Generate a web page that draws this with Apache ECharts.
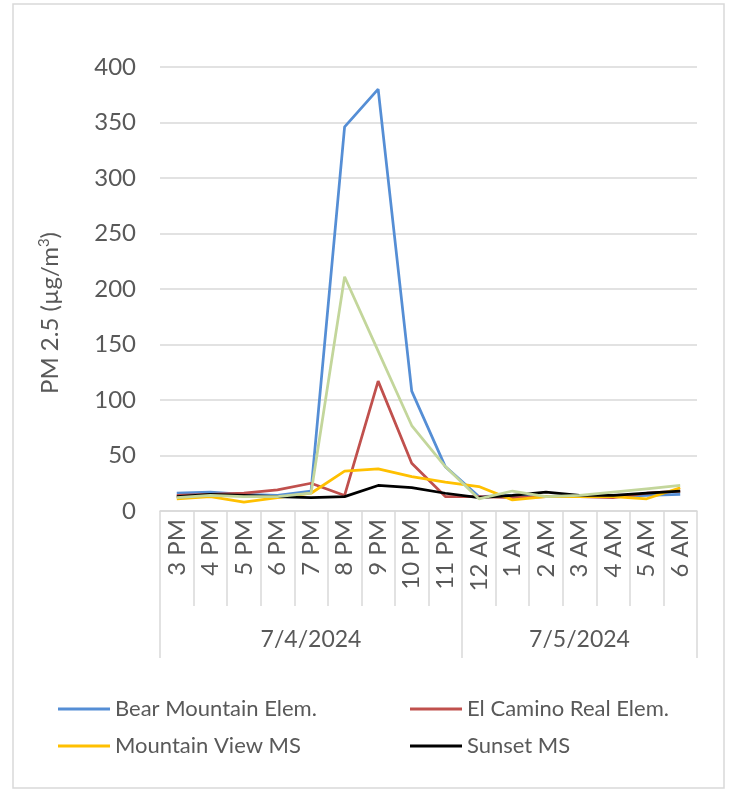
<!DOCTYPE html>
<html>
<head>
<meta charset="utf-8">
<script src="https://cdn.jsdelivr.net/npm/echarts@6/dist/echarts.min.js"></script>
<style>html,body{margin:0;padding:0;background:#fff}#c{width:729px;height:792px}</style>
</head>
<body>
<div id="c"></div>
<script>
const hours = ['3 PM','4 PM','5 PM','6 PM','7 PM','8 PM','9 PM','10 PM','11 PM','12 AM','1 AM','2 AM','3 AM','4 AM','5 AM','6 AM'];
const dateGroups = ['7/4/2024','7/5/2024'];
const dateGroupSizes = [9, 7];
const yTicks = [0, 50, 100, 150, 200, 250, 300, 350, 400];

const bearMountain = [16, 17, 15, 14, 18, 346, 380, 108, 40, 13, 14, 13, 13, 13, 14, 15];
const elCamino     = [14, 15, 16, 19, 25, 14, 117, 43, 13, 13, 12, 13, 13, 12, 16, 18];
const mountainView = [11, 13, 8, 12, 16, 36, 38, 31, 26, 22, 10, 13, 13, 13, 11, 21];
const sunset       = [13, 15, 14, 13, 12, 13, 23, 21, 16, 12, 14, 17, 14, 14, 16, 18];
const fifthSite    = [12, 14, 13, 13, 16, 211, 144, 77, 40, 11, 18, 13, 14, 17, 20, 23];

// build second-level axis (date groups)
const groupAxisData = new Array(hours.length).fill('');
const groupStarts = [];
const groupLabelIdx = [];
let start = 0;
dateGroups.forEach((g, i) => {
  groupStarts.push(start);
  const mid = start + Math.floor((dateGroupSizes[i] - 1) / 2);
  groupAxisData[mid] = g;
  groupLabelIdx.push(mid);
  start += dateGroupSizes[i];
});

const FONT = 'Lato';
const TXT = '#595959';
const GRIDC = '#d9d9d9';

const chart = echarts.init(document.getElementById('c'), null, {renderer: 'canvas'});
const mk = (name, data, color) => ({
  name, type: 'line', data, showSymbol: false, symbol: 'none',
  lineStyle: {color, width: 2.75}, itemStyle: {color}, animation: false
});
chart.setOption({
  animation: false,
  textStyle: {fontFamily: FONT},
  graphic: [{
    type: 'rect', shape: {x: 13, y: 4, width: 711, height: 784},
    style: {fill: 'none', stroke: GRIDC, lineWidth: 1.5}, silent: true
  }],
  grid: {left: 160, right: 32, top: 67, bottom: 281, containLabel: false, outerBoundsMode: 'none'},
  legend: [{
    orient: 'vertical', left: 58, top: 698, padding: 0, itemWidth: 52, itemHeight: 3, itemGap: 15,
    icon: 'rect', data: ['Bear Mountain Elem.', 'Mountain View MS'],
    textStyle: {color: TXT, fontSize: 22, fontFamily: FONT}
  }, {
    orient: 'vertical', left: 410, top: 698, padding: 0, itemWidth: 52, itemHeight: 3, itemGap: 15,
    icon: 'rect', data: ['El Camino Real Elem.', 'Sunset MS'],
    textStyle: {color: TXT, fontSize: 22, fontFamily: FONT}
  }],
  xAxis: [{
    type: 'category', data: hours, boundaryGap: true, position: 'bottom',
    axisLine: {show: true, lineStyle: {color: GRIDC, width: 1.5}},
    axisTick: {show: true, interval: 0, length: 95, lineStyle: {color: GRIDC, width: 1.5}},
    axisLabel: {interval: 0, rotate: 90, margin: 8, color: TXT, fontSize: 24, fontFamily: FONT}
  }, {
    type: 'category', data: groupAxisData, boundaryGap: true, position: 'bottom',
    axisLine: {show: false},
    axisTick: {show: true, interval: (i) => groupStarts.indexOf(i) >= 0, length: 147,
      lineStyle: {color: GRIDC, width: 1.5}},
    axisLabel: {interval: (i) => groupLabelIdx.indexOf(i) >= 0, margin: 117, color: TXT, fontSize: 23, fontFamily: FONT}
  }],
  yAxis: {
    type: 'value', min: yTicks[0], max: yTicks[yTicks.length - 1], interval: yTicks[1] - yTicks[0],
    axisLine: {show: false}, axisTick: {show: false},
    splitLine: {lineStyle: {color: GRIDC, width: 1.5}},
    axisLabel: {color: TXT, fontSize: 24, fontFamily: FONT, margin: 24},
    name: 'PM 2.5 (µg/m{sup|3})', nameLocation: 'middle', nameGap: 96, nameRotate: 90,
    nameTextStyle: {color: TXT, fontSize: 24, fontFamily: FONT, padding: [0, 48, 0, 0],
      rich: {sup: {fontSize: 15, color: TXT, fontFamily: FONT, verticalAlign: 'top', padding: [0, 0, 12, 0]}}}
  },
  series: [
    mk('Bear Mountain Elem.', bearMountain, '#558ED5'),
    mk('El Camino Real Elem.', elCamino, '#C0504D'),
    mk('Mountain View MS', mountainView, '#FFC000'),
    mk('Sunset MS', sunset, '#000000'),
    mk('Series 5', fifthSite, '#C3D69B')
  ]
});
</script>
</body>
</html>
